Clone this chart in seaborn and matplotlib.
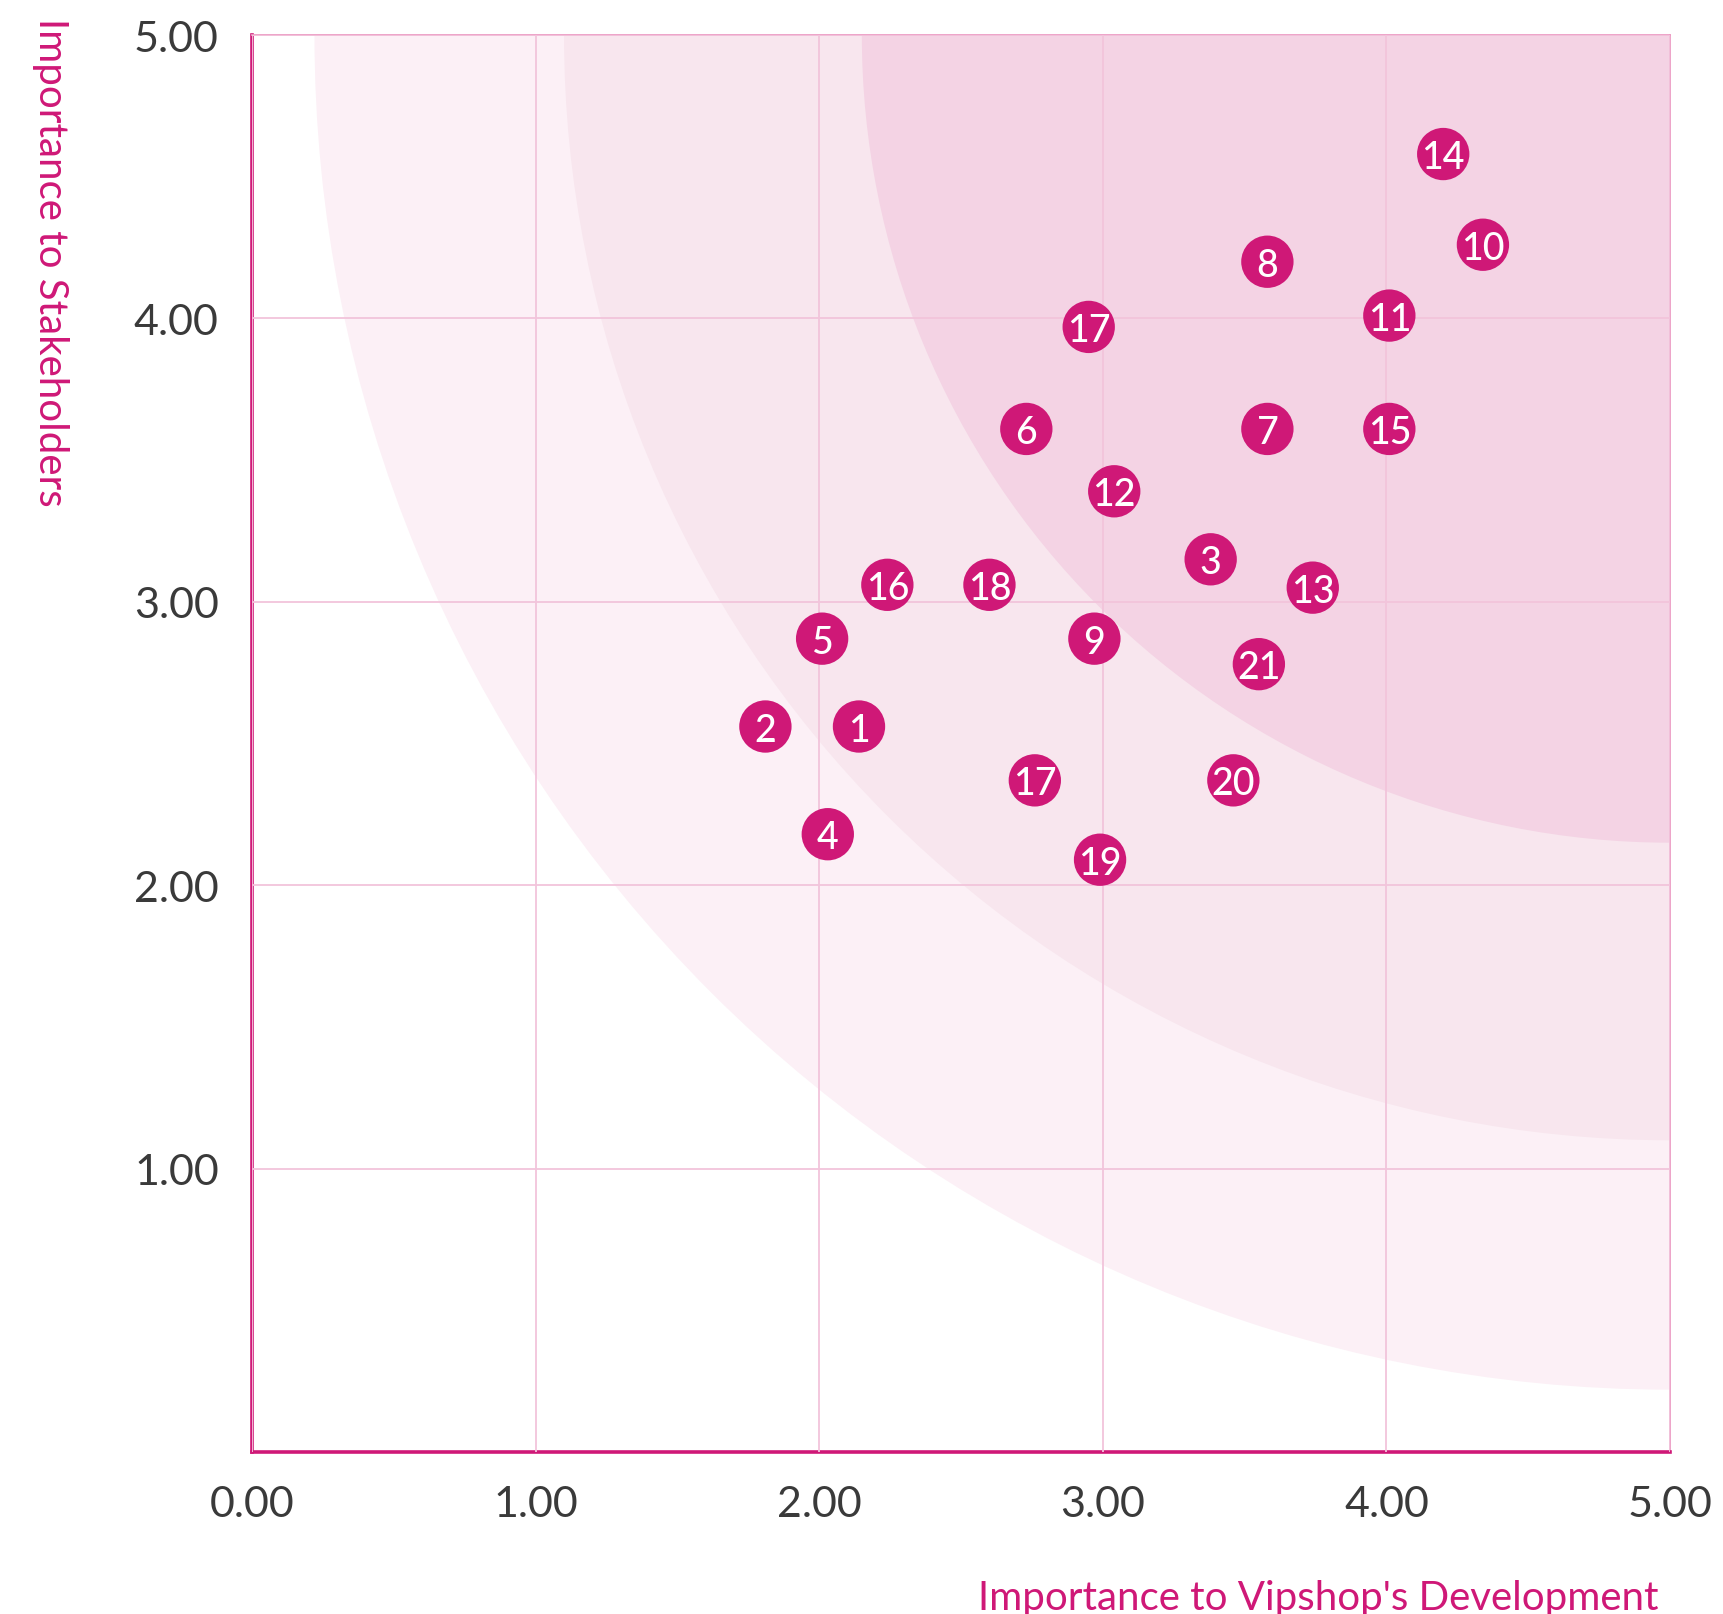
import matplotlib
matplotlib.use("Agg")
import matplotlib.pyplot as plt
from matplotlib.patches import Circle
import seaborn as sns
import pandas as pd

# data read from the matrix
labels = ["14", "10", "8", "11", "17", "6", "7", "15", "12", "3", "13",
          "16", "18", "5", "9", "21", "2", "1", "17", "20", "4", "19"]
x_dev = [4.20, 4.34, 3.58, 4.01, 2.95, 2.73, 3.58, 4.01, 3.04, 3.38, 3.74,
         2.24, 2.60, 2.01, 2.97, 3.55, 1.81, 2.14, 2.76, 3.46, 2.03, 2.99]
y_stake = [4.58, 4.26, 4.20, 4.01, 3.97, 3.61, 3.61, 3.61, 3.39, 3.15, 3.05,
           3.06, 3.06, 2.87, 2.87, 2.78, 2.56, 2.56, 2.37, 2.37, 2.18, 2.09]
band_radius = [4.78, 3.90, 2.85]
band_colors = ["#fcf0f6", "#f8e6ee", "#f4d3e4"]
ticks_x = [0, 1, 2, 3, 4, 5]
ticks_y = [1, 2, 3, 4, 5]

df = pd.DataFrame({"label": labels, "x": x_dev, "y": y_stake})

MAGENTA = "#cf1877"
GRID = "#f2c4db"

sns.set_theme(style="white")
plt.rcParams["font.family"] = ["Lato", "DejaVu Sans"]

fig = plt.figure(figsize=(17.23, 16.15), dpi=100)
ax = fig.add_axes([0.1463, 0.1003, 0.8230, 0.8774])

# concentric bands around the top-right corner
for r, c in zip(band_radius, band_colors):
    ax.add_patch(Circle((5, 5), r, facecolor=c, edgecolor="none", zorder=0))

sns.scatterplot(data=df, x="x", y="y", s=1420, color=MAGENTA,
                edgecolor="none", ax=ax, zorder=3, legend=False)
for _, row in df.iterrows():
    ax.text(row["x"], row["y"], row["label"], color="white", fontsize=27,
            fontweight="medium", ha="center", va="center_baseline", zorder=4)

ax.set_xlim(0, 5)
ax.set_ylim(0, 5)
ax.set_xticks(ticks_x)
ax.set_yticks(ticks_y)
ax.set_xticklabels([f"{t:.2f}" for t in ticks_x])
ax.set_yticklabels([f"{t:.2f}" for t in ticks_y])
ax.set_xlabel("")
ax.set_ylabel("")
ax.grid(True, color=GRID, linewidth=1.3, zorder=1)
ax.set_axisbelow(False)
ax.tick_params(length=0, labelsize=31, labelcolor="#3a3a3a", pad=24)

for side in ["left", "bottom"]:
    ax.spines[side].set_color(MAGENTA)
    ax.spines[side].set_linewidth(2.6)
for side in ["top", "right"]:
    ax.spines[side].set_color("#ec9cc4")
    ax.spines[side].set_linewidth(1.3)

fig.text(1659 / 1723, 1 - 1610 / 1615, "Importance to Vipshop's Development",
         ha="right", va="baseline", color=MAGENTA, fontsize=29)
fig.text(50 / 1723, 1 - 18 / 1615, "Importance to Stakeholders",
         rotation=270, ha="center", va="top", color=MAGENTA, fontsize=29)

fig.savefig("out.png", dpi=100)
